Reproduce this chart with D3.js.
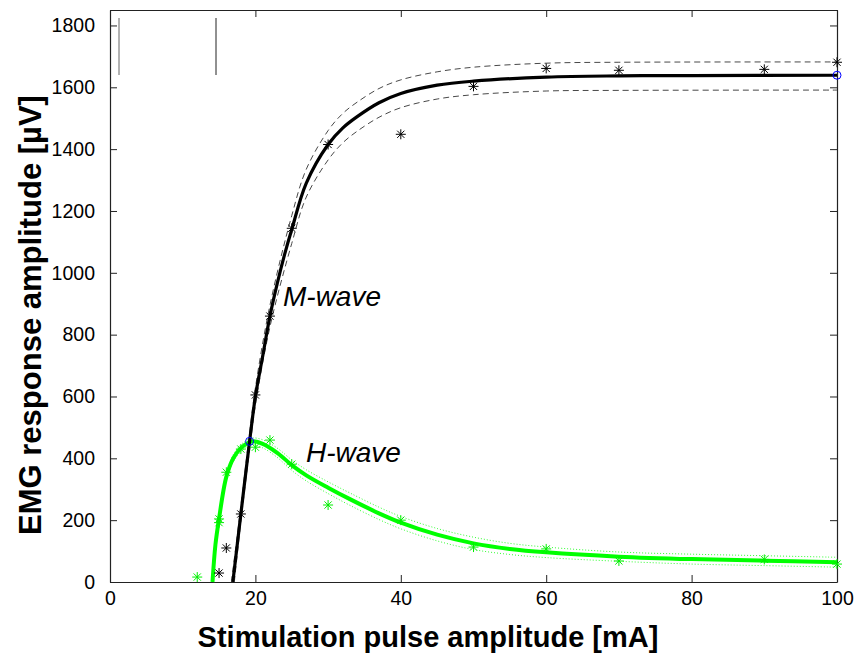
<!DOCTYPE html>
<html>
<head>
<meta charset="utf-8">
<script src="https://cdn.jsdelivr.net/npm/d3@7"></script>
<style>
  body { margin: 0; background: #fff; }
  svg { font-family: Arial, "Liberation Sans", sans-serif; }
</style>
</head>
<body>
<svg id="chart" width="858" height="656"></svg>
<script>
// measured points (stimulus mA, amplitude uV)
var mPoints = [[15, 29], [16, 110], [18, 220], [20, 605], [22, 860], [25, 1144],
    [30, 1415], [40, 1448], [50, 1603], [60, 1661], [70, 1655], [90, 1658], [100, 1681]];
var hPoints = [[12, 16], [15, 204], [15, 192], [16, 355], [18, 430], [20, 436], [22, 459],
    [25, 381], [30, 249], [40, 200], [50, 113], [60, 107], [70, 68], [90, 73], [100, 58]];

// fitted curves
var mFit = [[16.9, 0], [18, 220], [19.2, 455], [20, 600], [21, 730], [22, 860], [23, 965],
    [24, 1058], [25, 1140], [27, 1290], [30, 1415], [32, 1468], [34, 1505], [37, 1550],
    [40, 1580], [45, 1607], [50, 1620], [60, 1633], [70, 1637], [80, 1638], [100, 1639]];
var mUpper = [[16.7, 0], [18, 245], [19.2, 482], [20, 628], [22, 895], [25, 1185], [27, 1335],
    [30, 1460], [32, 1515], [34, 1552], [37, 1596], [40, 1624], [45, 1650], [50, 1665],
    [60, 1678], [70, 1681], [100, 1682]];
var mLower = [[17.1, 0], [18, 195], [19.2, 428], [20, 572], [22, 825], [25, 1095], [27, 1245],
    [30, 1365], [32, 1420], [34, 1458], [37, 1503], [40, 1534], [45, 1562], [50, 1576],
    [60, 1588], [70, 1590], [100, 1591]];

var hFit = [[14.1, 0], [14.5, 120], [15, 205], [16, 340], [17, 402], [18, 433], [19, 450],
    [19.7, 455], [21, 447], [23, 418], [25, 378], [27, 345], [30, 305], [33, 268], [37, 222],
    [40, 192], [45, 153], [50, 125], [55, 107], [60, 96], [70, 82], [80, 74], [90, 69], [100, 64]];
var hUpper = [[14.0, 0], [14.5, 130], [15, 218], [16, 352], [17, 414], [18, 444], [19, 461],
    [19.7, 466], [21, 460], [23, 433], [25, 395], [27, 363], [30, 324], [33, 288], [37, 242],
    [40, 212], [45, 173], [50, 145], [55, 125], [60, 113], [70, 97], [80, 90], [90, 85], [100, 80]];
var hLower = [[14.2, 0], [14.5, 110], [15, 192], [16, 328], [17, 390], [18, 422], [19, 439],
    [19.7, 444], [21, 434], [23, 403], [25, 361], [27, 327], [30, 286], [33, 248], [37, 202],
    [40, 172], [45, 133], [50, 105], [55, 89], [60, 79], [70, 67], [80, 58], [90, 53], [100, 48]];

var crossings = [[19.2, 455], [100, 1639]];

var xTicks = [0, 20, 40, 60, 80, 100];
var yTicks = [0, 200, 400, 600, 800, 1000, 1200, 1400, 1600, 1800];

var svg = d3.select("#chart");
var xScale = d3.scaleLinear().domain([0, 100]).range([110, 837]);
var yScale = d3.scaleLinear().domain([0, 1850]).range([582, 10]);

// axes with inward ticks on all four sides
svg.append("g")
    .attr("transform", "translate(0,582)")
    .call(d3.axisBottom(xScale).tickValues(xTicks).tickSize(-7).tickPadding(9)
        .tickSizeOuter(0).tickFormat(d3.format("d")))
    .call(styleAxis);
svg.append("g")
    .attr("transform", "translate(0,10)")
    .call(d3.axisTop(xScale).tickValues(xTicks).tickSize(-7).tickFormat("").tickSizeOuter(0))
    .call(styleAxis);
svg.append("g")
    .attr("transform", "translate(110,0)")
    .call(d3.axisLeft(yScale).tickValues(yTicks).tickSize(-7).tickPadding(15)
        .tickSizeOuter(0).tickFormat(d3.format("d")))
    .call(styleAxis);
svg.append("g")
    .attr("transform", "translate(837,0)")
    .call(d3.axisRight(yScale).tickValues(yTicks).tickSize(-7).tickFormat("").tickSizeOuter(0))
    .call(styleAxis);

function styleAxis(g) {
    g.select(".domain").attr("stroke", "#222").attr("stroke-width", 1.2);
    g.selectAll(".tick line").attr("stroke", "#222");
    g.selectAll(".tick text").attr("fill", "#000").style("font-size", "19.5px");
}

// leftover legend box edges in the top left corner
svg.append("line").attr("x1", 119).attr("x2", 119).attr("y1", 18).attr("y2", 75)
    .attr("stroke", "#666").attr("stroke-width", 1);
svg.append("line").attr("x1", 216).attr("x2", 216).attr("y1", 18).attr("y2", 75)
    .attr("stroke", "#222").attr("stroke-width", 1);

var line = d3.line()
    .x(function(d) { return xScale(d[0]); })
    .y(function(d) { return yScale(d[1]); })
    .curve(d3.curveCatmullRom.alpha(0.5));

var plot = svg.append("g");

// confidence bounds
plot.append("path").attr("d", line(mUpper)).attr("fill", "none")
    .attr("stroke", "#333").attr("stroke-width", 0.9).attr("stroke-dasharray", "6,4");
plot.append("path").attr("d", line(mLower)).attr("fill", "none")
    .attr("stroke", "#333").attr("stroke-width", 0.9).attr("stroke-dasharray", "6,4");
plot.append("path").attr("d", line(hUpper)).attr("fill", "none")
    .attr("stroke", "#33ff33").attr("stroke-width", 1).attr("stroke-dasharray", "1,2");
plot.append("path").attr("d", line(hLower)).attr("fill", "none")
    .attr("stroke", "#33ff33").attr("stroke-width", 1).attr("stroke-dasharray", "1,2");

// fits
plot.append("path").attr("d", line(hFit)).attr("fill", "none")
    .attr("stroke", "#00ff00").attr("stroke-width", 4);
plot.append("path").attr("d", line(mFit)).attr("fill", "none")
    .attr("stroke", "#000").attr("stroke-width", 3.2);

// asterisk markers
function asterisk(sel, pts, color) {
    var s = 5, d = 3.6;
    sel.selectAll(null).data(pts).enter().append("path")
        .attr("transform", function(p) { return "translate(" + xScale(p[0]) + "," + yScale(p[1]) + ")"; })
        .attr("d", "M" + (-s) + ",0H" + s + "M0," + (-s) + "V" + s +
            "M" + (-d) + "," + (-d) + "L" + d + "," + d + "M" + (-d) + "," + d + "L" + d + "," + (-d))
        .attr("stroke", color).attr("stroke-width", 1).attr("fill", "none");
}
asterisk(plot, hPoints, "#00ee00");
asterisk(plot, mPoints, "#000");

plot.selectAll(null).data(crossings).enter().append("circle")
    .attr("cx", function(d) { return xScale(d[0]); })
    .attr("cy", function(d) { return yScale(d[1]); })
    .attr("r", 4).attr("fill", "none").attr("stroke", "#0000ff").attr("stroke-width", 1);

// curve labels
svg.append("text").attr("x", 283).attr("y", 306).text("M-wave")
    .style("font-size", "28px").style("font-style", "italic");
svg.append("text").attr("x", 306).attr("y", 462).text("H-wave")
    .style("font-size", "28px").style("font-style", "italic");

// axis titles
svg.append("text").attr("x", 428).attr("y", 647).attr("text-anchor", "middle")
    .text("Stimulation pulse amplitude [mA]")
    .style("font-size", "29px").style("font-weight", "bold");
svg.append("text").attr("transform", "translate(41,315) rotate(-90)").attr("text-anchor", "middle")
    .text("EMG response amplitude [µV]")
    .style("font-size", "31px").style("font-weight", "bold");
</script>
</body>
</html>
